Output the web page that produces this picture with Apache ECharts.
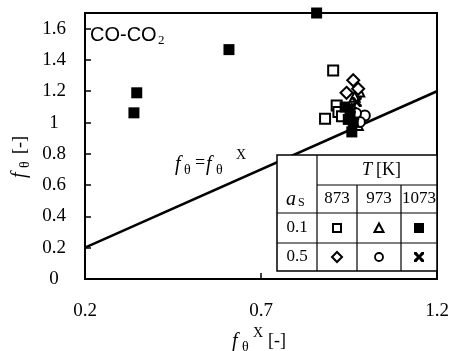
<!DOCTYPE html>
<html><head><meta charset="utf-8">
<script src="https://cdn.jsdelivr.net/npm/echarts@6/dist/echarts.min.js"></script>
<style>html,body{margin:0;padding:0;background:#fff}#c{width:452px;height:351px}</style>
</head><body><div id="c"></div>
<script>
// ---- data (f_theta^X, f_theta) ----
const xTicks = [0.2, 0.7, 1.2];
const yTicks = [0, 0.2, 0.4, 0.6, 0.8, 1, 1.2, 1.4, 1.6];
const sq873_01  = [[0.905,1.333],[0.882,1.024],[0.915,1.109],[0.920,1.067],[0.930,1.040]];
const tri973_01 = [[0.979,1.199],[0.966,1.165],[0.975,0.985]];
const sq1073_01 = [[0.339,1.062],[0.347,1.190],[0.609,1.466],[0.858,1.700],[0.939,1.099],[0.953,1.056],[0.962,1.003],[0.958,0.940],[0.948,1.020]];
const dia873_05 = [[0.962,1.270],[0.943,1.190],[0.976,1.216],[0.958,1.080]];
const cir973_05 = [[0.995,1.045],[0.981,1.003],[0.970,1.060]];
const x1073_05  = [[0.972,1.131],[0.965,1.000],[0.955,1.090]];
const identityLine = [[0.2,0.2],[1.2,1.2]];
const tempLabels = ['873','973','1073'];
const asLabels = ['0.1','0.5'];

const SERIF = '"Liberation Serif","DejaVu Serif",serif';
const XPATH = 'path://M0,0 L2.6,0 L5,3 L7.4,0 L10,0 L10,2.2 L7,5 L10,7.8 L10,10 L7.4,10 L5,7 L2.6,10 L0,10 L0,7.8 L3,5 L0,2.2 Z';
const XPTS = [[0,0],[2.6,0],[5,3],[7.4,0],[10,0],[10,2.2],[7,5],[10,7.8],[10,10],[7.4,10],[5,7],[2.6,10],[0,10],[0,7.8],[3,5],[0,2.2]];
const openStyle = {color:'#fff', borderColor:'#000', borderWidth:2, opacity:1};
const fillStyle = {color:'#000', opacity:1};

const chart = echarts.init(document.getElementById('c'), null, {renderer:'canvas'});

function txt(x, y, s, size, opts) {
  return Object.assign({type:'text', x:x, y:y, z:100,
    style:Object.assign({text:s, font: (opts&&opts.italic?'italic ':'') + size + 'px ' + SERIF,
      fill:'#000', textAlign:(opts&&opts.align)||'center', textVerticalAlign:'middle'}, (opts&&opts.style)||{})},
    (opts&&opts.extra)||{});
}
function hline(x1,x2,y,w){return {type:'line', z:100, shape:{x1:x1,y1:y,x2:x2,y2:y}, style:{stroke:'#000', lineWidth:w||1.2}};}
function vline(x,y1,y2,w){return {type:'line', z:100, shape:{x1:x,y1:y1,x2:x,y2:y2}, style:{stroke:'#000', lineWidth:w||1.2}};}

// table geometry (legend table)
const TX = [277, 317, 357, 401, 437];
const TY = [155, 185, 213, 243, 271];
const cx = [337, 379, 419];
const ry = [228, 257];

const graphics = [
  {type:'rect', z:99, shape:{x:TX[0], y:TY[0], width:TX[4]-TX[0], height:TY[4]-TY[0]}, style:{fill:'#fff', stroke:'#000', lineWidth:1.5}},
  hline(TX[1],TX[4],TY[1]), hline(TX[0],TX[4],TY[2]), hline(TX[0],TX[4],TY[3]),
  vline(TX[1],TY[0],TY[4]), vline(TX[2],TY[1],TY[4]), vline(TX[3],TY[1],TY[4]),
  txt(372,170,'T',18,{italic:true, align:'right'}),
  txt(376,170,'[K]',18,{align:'left'}),
  txt(296,200,'a',20,{italic:true, align:'right'}),
  txt(298,203,'S',12,{align:'left'}),
  txt(337,199,tempLabels[0],17), txt(379,199,tempLabels[1],17), txt(419,199,tempLabels[2],17),
  txt(297,228,asLabels[0],17), txt(297,257,asLabels[1],17),
  // table symbols
  {type:'rect', z:101, shape:{x:cx[0]-4,y:ry[0]-4,width:8,height:8}, style:{fill:'#fff',stroke:'#000',lineWidth:2}},
  {type:'polygon', z:101, shape:{points:[[cx[1],ry[0]-4.5],[cx[1]+4.5,ry[0]+4],[cx[1]-4.5,ry[0]+4]]}, style:{fill:'#fff',stroke:'#000',lineWidth:2}},
  {type:'rect', z:101, shape:{x:cx[2]-5,y:ry[0]-5,width:10,height:10}, style:{fill:'#000'}},
  {type:'polygon', z:101, shape:{points:[[cx[0],ry[1]-5],[cx[0]+5,ry[1]],[cx[0],ry[1]+5],[cx[0]-5,ry[1]]]}, style:{fill:'#fff',stroke:'#000',lineWidth:2}},
  {type:'circle', z:101, shape:{cx:cx[1],cy:ry[1],r:4}, style:{fill:'#fff',stroke:'#000',lineWidth:1.8}},
  {type:'polygon', z:101, x:cx[2]-5, y:ry[1]-5, shape:{points:XPTS}, style:{fill:'#000'}},
  // CO-CO2 label
  {type:'text', z:100, x:90, y:35, style:{text:'CO-CO', font:'20px "Liberation Sans",Arial,sans-serif', fill:'#000', textAlign:'left', textVerticalAlign:'middle'}},
  txt(158,41,'2',13,{align:'left'}),
  // f_theta = f_theta^X annotation
  txt(175,165,'f',20,{italic:true, align:'left'}),
  txt(184,170,'θ',14,{align:'left'}),
  txt(195,163,'=',18,{align:'left'}),
  txt(206,165,'f',20,{italic:true, align:'left'}),
  txt(216,170,'θ',14,{align:'left'}),
  txt(236,155,'X',14,{align:'left'}),
  // x axis title
  txt(232,342,'f',20,{italic:true, align:'left'}),
  txt(242,347,'θ',14,{align:'left'}),
  txt(253,333,'X',14,{align:'left'}),
  txt(268,341,'[-]',18,{align:'left'}),
  // y axis title (rotated)
  {type:'group', x:20, y:178, rotation:Math.PI/2, z:100, children:[
    {type:'text', x:0, y:0, style:{text:'f', font:'italic 20px '+SERIF, fill:'#000', textAlign:'left', textVerticalAlign:'middle'}},
    {type:'text', x:10, y:5, style:{text:'θ', font:'14px '+SERIF, fill:'#000', textAlign:'left', textVerticalAlign:'middle'}},
    {type:'text', x:24, y:0, style:{text:'[-]', font:'18px '+SERIF, fill:'#000', textAlign:'left', textVerticalAlign:'middle'}}
  ]}
];

const option = {
  animation:false,
  backgroundColor:'#fff',
  grid:{left:85, right:15, top:13, bottom:72, show:true, borderColor:'#000', borderWidth:2, backgroundColor:'transparent'},
  xAxis:{type:'value', min:xTicks[0], max:xTicks[2], interval:xTicks[1]-xTicks[0],
    axisLine:{show:true, onZero:false, lineStyle:{color:'#000', width:2}},
    axisTick:{show:true, inside:true, length:6, lineStyle:{color:'#000', width:1.5}},
    axisLabel:{color:'#000', fontFamily:SERIF, fontSize:19, margin:23},
    splitLine:{show:false}},
  yAxis:{type:'value', min:yTicks[0], max:1.7, interval:yTicks[1]-yTicks[0],
    axisLine:{show:true, onZero:false, lineStyle:{color:'#000', width:2}},
    axisTick:{show:true, inside:true, length:6, lineStyle:{color:'#000', width:1.5}},
    axisLabel:{color:'#000', fontFamily:SERIF, fontSize:19, margin:31, align:'center', showMaxLabel:false},
    splitLine:{show:false}},
  series:[
    {type:'line', data:identityLine, showSymbol:false, symbol:'none', lineStyle:{color:'#000', width:2.5}, z:2, silent:true},
    {type:'scatter', data:sq873_01, symbol:'rect', symbolSize:10, itemStyle:openStyle, z:3},
    {type:'scatter', data:tri973_01, symbol:'triangle', symbolSize:10, itemStyle:openStyle, z:3},
    {type:'scatter', data:dia873_05, symbol:'diamond', symbolSize:12, itemStyle:openStyle, z:3},
    {type:'scatter', data:cir973_05, symbol:'circle', symbolSize:10, itemStyle:openStyle, z:3},
    {type:'scatter', data:sq1073_01, symbol:'rect', symbolSize:11, itemStyle:fillStyle, z:4},
    {type:'scatter', data:x1073_05, symbol:XPATH, symbolSize:10, itemStyle:fillStyle, z:4}
  ],
  graphic:graphics
};
chart.setOption(option);
</script></body></html>
